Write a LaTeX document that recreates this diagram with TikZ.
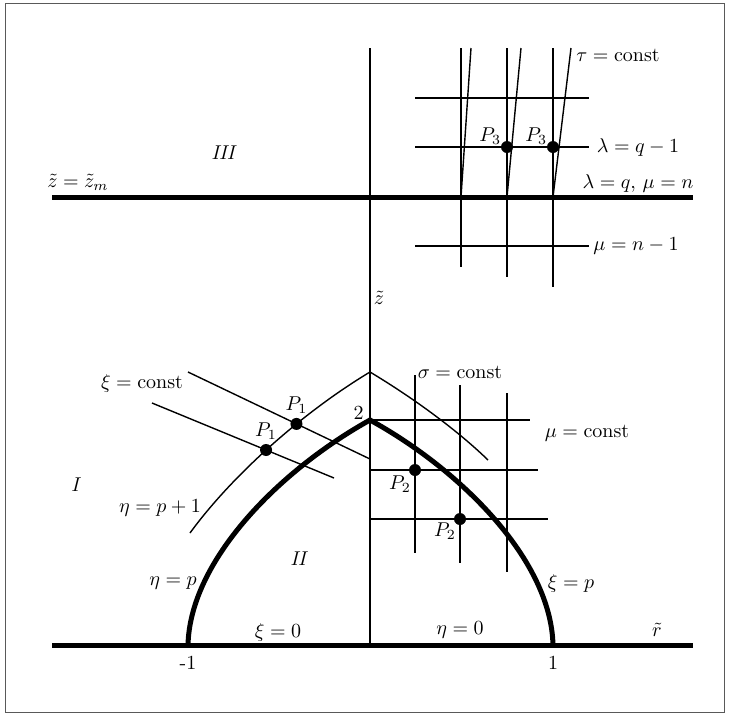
\documentclass[tikz,border=0pt]{standalone}
\usepackage{amsmath, amssymb}
\usetikzlibrary{positioning, intersections}

\begin{document}
\begin{tikzpicture}[
    x=0.5pt, y=-0.5pt,
    axisline/.style={line width=2.5pt},
    bndline/.style={line width=2.5pt, line cap=round},
    gridline/.style={line width=1pt},
    thinline/.style={line width=0.7pt},
    dotnode/.style={circle, fill=black, inner sep=0pt, minimum size=6pt},
    lbl/.style={font=\normalsize, inner sep=1pt},
    reglbl/.style={font=\normalsize\itshape},
]
\useasboundingbox (0,0) rectangle (729,714);
\draw[gray!70!black, line width=0.5pt] (5,3) rectangle (724,712);

% ================================================================
%  AXES AND THE LINE z = z_m
% ================================================================
\coordinate (ax_l) at (52,645);
\coordinate (ax_r) at (693,645);
\coordinate (zm_l) at (52,197);
\coordinate (zm_r) at (693,197);
\coordinate (zax_b) at (370,645);
\coordinate (zax_t) at (370,48);

\draw[gridline] (zax_b) -- (zax_t);
\draw[axisline] (ax_l) -- (ax_r);
\draw[axisline] (zm_l) -- (zm_r);

\node[lbl] (zm_lbl) at (78,182) {$\tilde{z} = \tilde{z}_m$};
\node[lbl] (z_lbl)  at (379,298) {$\tilde{z}$};
\node[lbl] (r_lbl)  at (657,630) {$\tilde{r}$};
\node[lbl] (m1_lbl) at (188,663) {-1};
\node[lbl] (p1_lbl) at (553,663) {1};

% region labels
\node[reglbl] (reg1) at (75,485)  {I};
\node[reglbl] (reg2) at (298,559) {II};
\node[reglbl] (reg3) at (223,153) {III};

% ================================================================
%  BOUNDARY CURVES eta = p, xi = p
% ================================================================
\coordinate (foot_l) at (188,645);
\coordinate (foot_r) at (553,645);
\coordinate (tip)    at (370,420);

\draw[bndline] (foot_l) .. controls (190,560) and (280,470) .. (tip)
               .. controls (461,470) and (551,560) .. (foot_r);

\node[lbl, anchor=south east] (two_lbl) at (366,422) {2};
\node[lbl] (etap_lbl) at (173,583) {$\eta = p$};
\node[lbl] (xip_lbl)  at (571,583) {$\xi = p$};
\node[lbl] (xi0_lbl)  at (278,632) {$\xi = 0$};
\node[lbl] (eta0_lbl) at (460,630) {$\eta = 0$};

% ================================================================
%  LEFT: eta = p+1 AND xi = const, POINTS P1
% ================================================================
\coordinate (peak) at (370,372);

\draw[thinline, name path=etacurve]
    (190,533) .. controls (230,478) and (300,414) .. (peak);
\draw[thinline] (peak) .. controls (410,396) and (455,428) .. (488,460);

\draw[thinline, name path=xiup] (188,372) -- (370,459);
\draw[thinline, name path=xilo] (152,403) -- (334,478);

\path[name intersections={of=etacurve and xiup, by=p1a}];
\path[name intersections={of=etacurve and xilo, by=p1b}];
\node[dotnode] (P1a) at (p1a) {};
\node[dotnode] (P1b) at (p1b) {};
\node[lbl, above=1pt of P1a] {$P_1$};
\node[lbl, above=1pt of P1b] {$P_1$};

\node[lbl] (xic_lbl)  at (142,383) {$\xi = \text{const}$};
\node[lbl] (etap1_lbl) at (160,508) {$\eta = p + 1$};

% ================================================================
%  RIGHT: sigma = const / mu = const GRID, POINTS P2
% ================================================================
\draw[gridline] (415,375) -- (415,553);
\draw[gridline] (460,385) -- (460,563);
\draw[gridline] (507,393) -- (507,572);
\draw[gridline] (tip) -- (530,420);
\draw[gridline] (370,470) -- (538,470);
\draw[gridline] (370,519) -- (548,519);

\node[dotnode] (P2a) at (415,470) {};
\node[dotnode] (P2b) at (460,519) {};
\node[lbl] at (400,484) {$P_2$};
\node[lbl] at (445,531) {$P_2$};

\node[lbl] (sig_lbl) at (460,372) {$\sigma = \text{const}$};
\node[lbl] (muc_lbl) at (587,433) {$\mu = \text{const}$};

% ================================================================
%  TOP: lambda / mu / tau GRID, POINTS P3
% ================================================================
\foreach \xx/\yb in {461/267, 507/277, 553/287}
    \draw[thinline] (\xx,48) -- (\xx,\yb);
\foreach \xx/\xt in {461/471, 507/521, 553/571}
    \draw[thinline] (\xx,197) -- (\xt,48);
\foreach \yy in {98, 147, 246}
    \draw[thinline] (415,\yy) -- (589,\yy);

\node[dotnode] (P3a) at (507,147) {};
\node[dotnode] (P3b) at (553,147) {};
\node[lbl, anchor=south east] at ([xshift=1.5pt]P3a.west) {$P_3$};
\node[lbl, anchor=south east] at ([xshift=1.5pt]P3b.west) {$P_3$};

\node[lbl, anchor=west] (tau_lbl) at (574,55) {$\tau = \text{const}$};
\node[lbl] (lq1_lbl) at (638,147) {$\lambda = q - 1$};
\node[lbl] (lq_lbl)  at (638,183) {$\lambda = q,\, \mu = n$};
\node[lbl] (mn1_lbl) at (636,246) {$\mu = n - 1$};

\end{tikzpicture}
\end{document}
